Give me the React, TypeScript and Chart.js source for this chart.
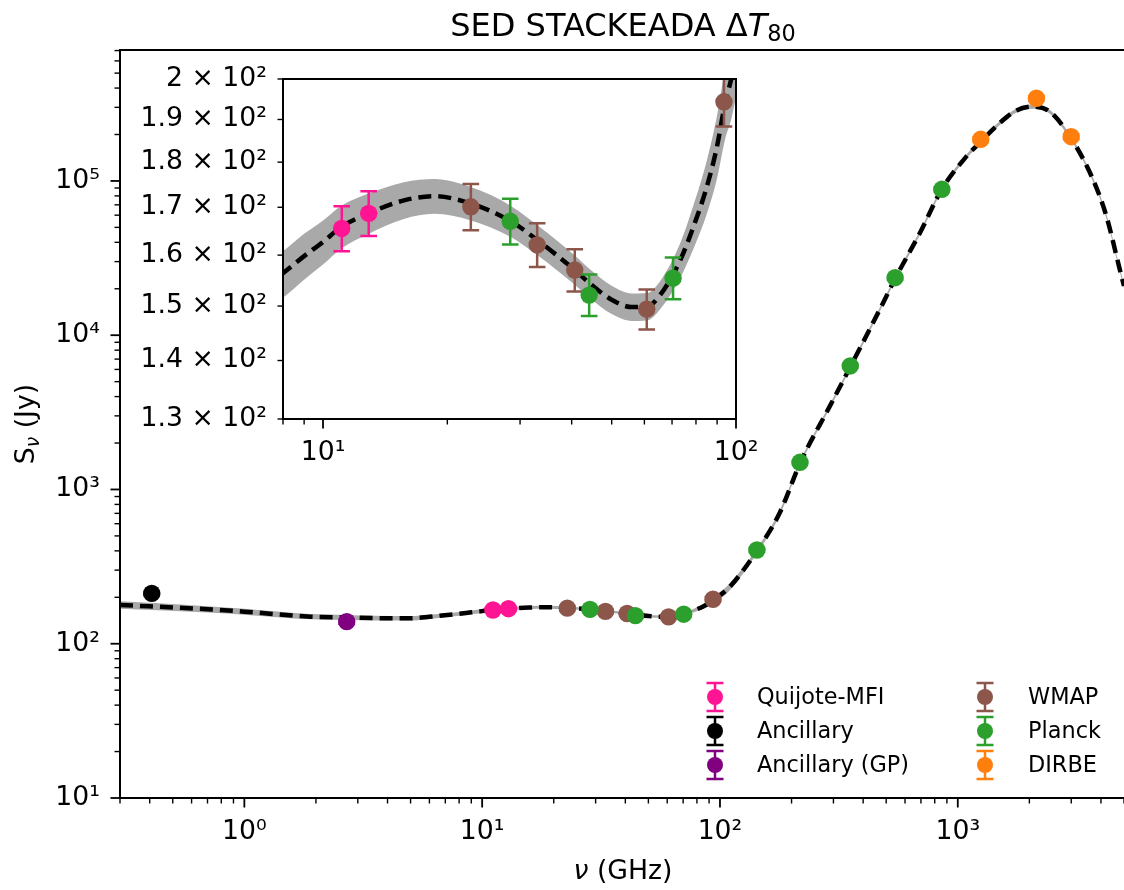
import React, { useEffect, useRef } from 'react';
import { Chart, registerables } from 'chart.js';

Chart.register(...registerables);

const FONT = '"DejaVu Sans", "Liberation Sans", sans-serif';

// ---------------- Data ----------------
const seriesNames = ['Quijote-MFI', 'Ancillary', 'Ancillary (GP)', 'WMAP', 'Planck', 'DIRBE'];
const seriesColors = ['#ff1493', '#000000', '#800080', '#8c564b', '#2ca02c', '#ff7f0e'];

const quijoteFreq = [11.1, 12.9];
const quijoteFlux = [165.5, 168.7];
const quijoteErr = [4.7, 4.8];

const ancFreq = [0.408];
const ancFlux = [212];
const ancErr = [5];

const ancGpFreq = [2.695];
const ancGpFlux = [139];
const ancGpErr = [4];

const wmapFreq = [22.8, 33.0, 40.7, 60.8, 93.5];
const wmapFlux = [170.1, 162.1, 157.0, 149.4, 194.3];
const wmapErr = [5.0, 4.5, 4.2, 3.8, 6.0];

const planckFreq = [28.4, 44.1, 70.4, 143, 217, 353, 545, 857];
const planckFlux = [167.0, 152.1, 155.4, 405, 1500, 6320, 23600, 88300];
const planckErr = [4.85, 4.0, 4.1, 10, 35, 150, 600, 2500];

const dirbeFreq = [1249, 2141, 2998];
const dirbeFlux = [186200, 343600, 193600];
const dirbeErr = [6000, 11000, 7000];

// model curve (dashed) and its uncertainty band
const modelFreq = [0.3, 0.7, 1.0, 1.9, 2.7, 3.5, 5.0, 6.0, 8.0, 9.0, 10, 11.1, 12.9, 15.7, 18.6, 22.8, 28.5, 33.0, 40.7, 44.2, 50, 56, 60.9, 65.5, 73.3, 78.9, 85, 89.9, 94.1, 97.6, 110, 143, 178, 218, 289, 355, 470, 548, 692, 857, 1088, 1258, 1502, 1766, 2075, 2438, 3027, 3710, 4222, 4805, 5000];
const modelFlux = [178.5, 167.3, 161.4, 149.8, 148.0, 146.6, 146.3, 149.5, 156.4, 159.8, 162.7, 165.9, 168.7, 171.5, 172.4, 170.8, 167.0, 163.1, 157.0, 154.4, 151.2, 149.8, 149.9, 152.1, 159.0, 165.9, 174.5, 183.5, 194.0, 200.5, 234, 400, 701, 1501, 3442, 6320, 14690, 23600, 45800, 88300, 144200, 181600, 237700, 286400, 303300, 281400, 184400, 101500, 58700, 26500, 20860];
const modelLow = [168.7, 159.3, 154.3, 144.0, 142.5, 141.5, 141.5, 144.9, 151.6, 155.1, 158.1, 161.4, 164.4, 167.5, 168.6, 167.2, 163.7, 160.0, 154.1, 151.6, 148.5, 147.2, 147.3, 149.4, 155.5, 161.3, 168.6, 176.2, 185.3, 190.5, 222.3, 384, 676.5, 1456, 3339, 6130, 14250, 22890, 44430, 85650, 139900, 176200, 230600, 277800, 294200, 273000, 178900, 98460, 56940, 25710, 20230];
const modelHigh = [188.3, 175.3, 168.5, 155.6, 153.5, 151.7, 151.1, 154.1, 160.8, 164.4, 167.2, 170.4, 173.0, 175.5, 176.2, 174.4, 170.3, 166.2, 159.9, 157.2, 153.9, 152.4, 152.5, 154.8, 162.5, 170.5, 180.4, 190.8, 202.7, 210.5, 245.7, 416, 725.5, 1546, 3545, 6510, 15130, 24310, 47170, 90950, 148500, 187000, 244800, 295000, 312400, 289800, 189900, 104500, 60460, 27300, 21490];

// ticks
const mainXTicks = [0.3, 0.4, 0.5, 0.6, 0.7, 0.8, 0.9, 1, 2, 3, 4, 5, 6, 7, 8, 9, 10, 20, 30, 40, 50, 60, 70, 80, 90, 100, 200, 300, 400, 500, 600, 700, 800, 900, 1000, 2000, 3000, 4000, 5000];
const mainXMajor = [1, 10, 100, 1000];
const mainXLabels = ['10⁰', '10¹', '10²', '10³'];
const mainYTicks = [10, 20, 30, 40, 50, 60, 70, 80, 90, 100, 200, 300, 400, 500, 600, 700, 800, 900, 1000, 2000, 3000, 4000, 5000, 6000, 7000, 8000, 9000, 10000, 20000, 30000, 40000, 50000, 60000, 70000, 80000, 90000, 100000, 200000, 300000, 400000, 500000, 600000, 700000];
const mainYMajor = [10, 100, 1000, 10000, 100000];
const mainYLabels = ['10¹', '10²', '10³', '10⁴', '10⁵'];

const insetXTicks = [8, 9, 10, 20, 30, 40, 50, 60, 70, 80, 90, 100];
const insetXMajor = [10, 100];
const insetXLabels = ['10¹', '10²'];
const insetYTicks = [130, 140, 150, 160, 170, 180, 190, 200];
const insetYLabels = ['1.3 × 10²', '1.4 × 10²', '1.5 × 10²', '1.6 × 10²', '1.7 × 10²', '1.8 × 10²', '1.9 × 10²', '2 × 10²'];

// texts
const TITLE_TEXT = 'SED STACKEADA Δ';
const TITLE_VAR = 'T';
const TITLE_SUB = '80';
const XLABEL_VAR = 'ν';
const XLABEL_UNIT = ' (GHz)';
const YLABEL_VAR = 'S';
const YLABEL_SUB = 'ν';
const YLABEL_UNIT = ' (Jy)';

// ---------------- helpers ----------------
const BAND = '#a9a9a9';

function tickLabeler(values: number[], labels: string[]) {
  return (v: any) => {
    const n = Number(v);
    const i = values.findIndex((t) => Math.abs(t - n) <= t * 1e-6);
    return i >= 0 ? labels[i] : '';
  };
}

function buildDatasets(markerR: number) {
  const series = [
    { f: quijoteFreq, s: quijoteFlux, e: quijoteErr },
    { f: ancFreq, s: ancFlux, e: ancErr },
    { f: ancGpFreq, s: ancGpFlux, e: ancGpErr },
    { f: wmapFreq, s: wmapFlux, e: wmapErr },
    { f: planckFreq, s: planckFlux, e: planckErr },
    { f: dirbeFreq, s: dirbeFlux, e: dirbeErr },
  ];
  const points = series.map((sr, k) => ({
    type: 'line',
    label: seriesNames[k],
    data: sr.f.map((f, i) => ({ x: f, y: sr.s[i] })),
    errors: sr.e,
    errColor: seriesColors[k],
    showLine: false,
    pointRadius: markerR,
    pointHoverRadius: markerR,
    pointBackgroundColor: seriesColors[k],
    pointBorderColor: seriesColors[k],
    pointBorderWidth: 0,
    backgroundColor: seriesColors[k],
    borderColor: seriesColors[k],
    order: 6 - k,
  }));
  const bandHigh = {
    type: 'line',
    label: 'model upper',
    data: modelFreq.map((f, i) => ({ x: f, y: modelHigh[i] })),
    borderWidth: 0,
    borderColor: 'rgba(0,0,0,0)',
    pointRadius: 0,
    fill: '+1',
    backgroundColor: BAND,
    cubicInterpolationMode: 'monotone',
    order: 20,
  };
  const bandLow = {
    type: 'line',
    label: 'model lower',
    data: modelFreq.map((f, i) => ({ x: f, y: modelLow[i] })),
    borderWidth: 0,
    borderColor: 'rgba(0,0,0,0)',
    pointRadius: 0,
    fill: false,
    cubicInterpolationMode: 'monotone',
    order: 21,
  };
  const model = {
    type: 'line',
    label: 'model',
    data: modelFreq.map((f, i) => ({ x: f, y: modelFlux[i] })),
    borderColor: '#000000',
    borderWidth: 4.5,
    borderDash: [13, 7],
    pointRadius: 0,
    fill: false,
    cubicInterpolationMode: 'monotone',
    order: 10,
  };
  return [...points, bandHigh, bandLow, model];
}

function errorBarsPlugin(capHalf: number, lw: number) {
  return {
    id: 'errorBars',
    beforeDatasetDraw(chart: any, args: any) {
      const ds = chart.data.datasets[args.index];
      if (!ds.errors) return;
      const { ctx, chartArea: a, scales } = chart;
      ctx.save();
      ctx.beginPath();
      ctx.rect(a.left, a.top, a.right - a.left, a.bottom - a.top);
      ctx.clip();
      ctx.strokeStyle = ds.errColor;
      ctx.lineWidth = lw;
      ctx.lineCap = 'butt';
      ds.data.forEach((p: any, i: number) => {
        const e = ds.errors[i];
        const x = scales.x.getPixelForValue(p.x);
        const yT = scales.y.getPixelForValue(p.y + e);
        const yB = scales.y.getPixelForValue(p.y - e);
        ctx.beginPath();
        ctx.moveTo(x, yT);
        ctx.lineTo(x, yB);
        ctx.moveTo(x - capHalf, yT);
        ctx.lineTo(x + capHalf, yT);
        ctx.moveTo(x - capHalf, yB);
        ctx.lineTo(x + capHalf, yB);
        ctx.stroke();
      });
      ctx.restore();
    },
  };
}

type TickSpec = { values: number[]; majors: number[]; majorLen: number; minorLen: number; majorW: number; minorW: number };

function tickMarksPlugin(xs: TickSpec, ys: TickSpec) {
  return {
    id: 'tickMarks',
    afterDatasetsDraw(chart: any) {
      const { ctx, chartArea: a, scales } = chart;
      ctx.save();
      ctx.strokeStyle = '#000';
      ctx.lineCap = 'butt';
      const isMajor = (spec: TickSpec, v: number) => spec.majors.some((m) => Math.abs(m - v) <= m * 1e-6);
      xs.values.forEach((v) => {
        const mj = isMajor(xs, v);
        const p = scales.x.getPixelForValue(v);
        ctx.lineWidth = mj ? xs.majorW : xs.minorW;
        ctx.beginPath();
        ctx.moveTo(p, a.bottom);
        ctx.lineTo(p, a.bottom + (mj ? xs.majorLen : xs.minorLen));
        ctx.stroke();
      });
      ys.values.forEach((v) => {
        const mj = isMajor(ys, v);
        const p = scales.y.getPixelForValue(v);
        ctx.lineWidth = mj ? ys.majorW : ys.minorW;
        ctx.beginPath();
        ctx.moveTo(a.left, p);
        ctx.lineTo(a.left - (mj ? ys.majorLen : ys.minorLen), p);
        ctx.stroke();
      });
      ctx.restore();
    },
  };
}

function framePlugin(right: boolean, lw: number) {
  return {
    id: 'frame',
    afterDatasetsDraw(chart: any) {
      const { ctx, chartArea: a } = chart;
      ctx.save();
      ctx.strokeStyle = '#000';
      ctx.lineWidth = lw;
      ctx.lineCap = 'square';
      ctx.beginPath();
      ctx.moveTo(a.right + (right ? 0 : 5), a.top);
      ctx.lineTo(a.left, a.top);
      ctx.lineTo(a.left, a.bottom);
      ctx.lineTo(a.right + (right ? 0 : 5), a.bottom);
      if (right) {
        ctx.lineTo(a.right, a.top);
      }
      ctx.stroke();
      ctx.restore();
    },
  };
}

const whiteAreaPlugin = {
  id: 'whiteArea',
  beforeDraw(chart: any) {
    const { ctx, chartArea: a } = chart;
    ctx.save();
    ctx.fillStyle = '#ffffff';
    ctx.fillRect(a.left, a.top, a.right - a.left, a.bottom - a.top);
    ctx.restore();
  },
};

type Run = { text: string; font: string; dy: number };

function drawRuns(ctx: CanvasRenderingContext2D, runs: Run[], x: number, y: number) {
  const widths = runs.map((r) => {
    ctx.font = r.font;
    return ctx.measureText(r.text).width;
  });
  const total = widths.reduce((s, w) => s + w, 0);
  let cx = x - total / 2;
  ctx.textAlign = 'left';
  ctx.textBaseline = 'alphabetic';
  runs.forEach((r, i) => {
    ctx.font = r.font;
    ctx.fillText(r.text, cx, y + r.dy);
    cx += widths[i];
  });
}

const textPlugin = {
  id: 'sedTexts',
  afterDraw(chart: any) {
    const { ctx, chartArea: a } = chart;
    ctx.save();
    ctx.fillStyle = '#000';
    const cx = (a.left + 1126) / 2;
    drawRuns(ctx, [
      { text: TITLE_TEXT, font: `32px ${FONT}`, dy: 0 },
      { text: TITLE_VAR, font: `italic 32px ${FONT}`, dy: 0 },
      { text: TITLE_SUB, font: `22.4px ${FONT}`, dy: 5 },
    ], cx, 36);
    drawRuns(ctx, [
      { text: XLABEL_VAR, font: `italic 26.7px ${FONT}`, dy: 0 },
      { text: XLABEL_UNIT, font: `26.7px ${FONT}`, dy: 0 },
    ], cx, 879);
    ctx.translate(34, (a.top + a.bottom) / 2);
    ctx.rotate(-Math.PI / 2);
    drawRuns(ctx, [
      { text: YLABEL_VAR, font: `26.7px ${FONT}`, dy: 0 },
      { text: YLABEL_SUB, font: `italic 18.7px ${FONT}`, dy: 5 },
      { text: YLABEL_UNIT, font: `26.7px ${FONT}`, dy: 0 },
    ], 0, 0);
    ctx.restore();
  },
};

const LEGEND_MARK_X = [715, 985];
const LEGEND_TEXT_X = [757, 1028];
const LEGEND_ROW_Y = [697, 731, 765];

const legendPlugin = {
  id: 'sedLegend',
  afterDraw(chart: any) {
    const { ctx } = chart;
    ctx.save();
    seriesNames.forEach((name, k) => {
      const col = Math.floor(k / 3);
      const row = k % 3;
      const mx = LEGEND_MARK_X[col];
      const my = LEGEND_ROW_Y[row];
      const c = seriesColors[k];
      ctx.strokeStyle = c;
      ctx.fillStyle = c;
      ctx.lineWidth = 2.5;
      ctx.beginPath();
      ctx.moveTo(mx, my - 14);
      ctx.lineTo(mx, my + 14);
      ctx.moveTo(mx - 8.5, my - 14);
      ctx.lineTo(mx + 8.5, my - 14);
      ctx.moveTo(mx - 8.5, my + 14);
      ctx.lineTo(mx + 8.5, my + 14);
      ctx.stroke();
      ctx.beginPath();
      ctx.arc(mx, my, 8, 0, Math.PI * 2);
      ctx.fill();
      ctx.fillStyle = '#000';
      ctx.font = `22.4px ${FONT}`;
      ctx.textAlign = 'left';
      ctx.textBaseline = 'middle';
      ctx.fillText(name, LEGEND_TEXT_X[col], my + 1);
    });
    ctx.restore();
  },
};

function zeroPad(s: any) {
  s.paddingLeft = 0;
  s.paddingRight = 0;
  s.paddingTop = 0;
  s.paddingBottom = 0;
}

function axisCommon(padding: number) {
  return {
    grid: { display: false, drawTicks: false },
    border: { display: false },
    ticks: {
      autoSkip: false,
      maxRotation: 0,
      minRotation: 0,
      padding,
      color: '#000',
      font: { family: FONT, size: 26.7 },
    },
  };
}

function mainConfig(): any {
  const xc = axisCommon(18);
  const yc = axisCommon(20);
  return {
    type: 'line',
    data: { datasets: buildDatasets(8.7) },
    options: {
      responsive: false,
      animation: false,
      devicePixelRatio: 1,
      events: [],
      layout: { autoPadding: false, padding: { top: 50, left: 0, right: 0, bottom: 0 } },
      plugins: { legend: { display: false }, tooltip: { enabled: false }, title: { display: false } },
      scales: {
        x: {
          type: 'logarithmic',
          position: 'bottom',
          min: 0.3,
          max: 5000,
          ...xc,
          ticks: { ...xc.ticks, callback: tickLabeler(mainXMajor, mainXLabels) },
          afterBuildTicks: (s: any) => { s.ticks = mainXTicks.map((v) => ({ value: v })); },
          afterFit: (s: any) => { s.height = 92; zeroPad(s); },
        },
        y: {
          type: 'logarithmic',
          position: 'left',
          min: 10,
          max: 706000,
          ...yc,
          ticks: { ...yc.ticks, callback: tickLabeler(mainYMajor, mainYLabels) },
          afterBuildTicks: (s: any) => { s.ticks = mainYTicks.map((v) => ({ value: v })); },
          afterFit: (s: any) => { s.width = 120; zeroPad(s); },
        },
      },
    },
    plugins: [
      errorBarsPlugin(8.3, 2.5),
      tickMarksPlugin(
        { values: mainXTicks, majors: mainXMajor, majorLen: 9.5, minorLen: 5.5, majorW: 1.8, minorW: 1.4 },
        { values: mainYTicks, majors: mainYMajor, majorLen: 9.5, minorLen: 5.5, majorW: 1.8, minorW: 1.4 },
      ),
      framePlugin(false, 2),
      textPlugin,
      legendPlugin,
    ],
  };
}

function insetConfig(): any {
  const xc = axisCommon(18);
  const yc = axisCommon(16);
  return {
    type: 'line',
    data: { datasets: buildDatasets(8.7) },
    options: {
      responsive: false,
      animation: false,
      devicePixelRatio: 1,
      events: [],
      layout: { autoPadding: false, padding: { top: 19, left: 0, right: 54, bottom: 0 } },
      plugins: { legend: { display: false }, tooltip: { enabled: false }, title: { display: false } },
      scales: {
        x: {
          type: 'logarithmic',
          position: 'bottom',
          min: 8,
          max: 100,
          ...xc,
          ticks: { ...xc.ticks, callback: tickLabeler(insetXMajor, insetXLabels) },
          afterBuildTicks: (s: any) => { s.ticks = insetXTicks.map((v) => ({ value: v })); },
          afterFit: (s: any) => { s.height = 61; zeroPad(s); },
        },
        y: {
          type: 'logarithmic',
          position: 'left',
          min: 130,
          max: 200,
          ...yc,
          ticks: { ...yc.ticks, callback: tickLabeler(insetYTicks, insetYLabels) },
          afterBuildTicks: (s: any) => { s.ticks = insetYTicks.map((v) => ({ value: v })); },
          afterFit: (s: any) => { s.width = 153; zeroPad(s); },
        },
      },
    },
    plugins: [
      whiteAreaPlugin,
      errorBarsPlugin(8.3, 2.5),
      tickMarksPlugin(
        { values: insetXTicks, majors: insetXMajor, majorLen: 9.5, minorLen: 5.5, majorW: 1.8, minorW: 1.4 },
        { values: insetYTicks, majors: [], majorLen: 9.5, minorLen: 5.5, majorW: 1.8, minorW: 1.4 },
      ),
      framePlugin(true, 2),
    ],
  };
}

export default function App() {
  const mainRef = useRef<HTMLCanvasElement>(null);
  const insetRef = useRef<HTMLCanvasElement>(null);

  useEffect(() => {
    const main = new Chart(mainRef.current as HTMLCanvasElement, mainConfig());
    const inset = new Chart(insetRef.current as HTMLCanvasElement, insetConfig());
    return () => {
      main.destroy();
      inset.destroy();
    };
  }, []);

  return (
    <div style={{ position: 'absolute', left: 0, top: 0, width: 1124, height: 890, background: '#ffffff', overflow: 'hidden' }}>
      <canvas ref={mainRef} width={1124} height={890} style={{ position: 'absolute', left: 0, top: 0, display: 'block' }} />
      <canvas ref={insetRef} width={660} height={420} style={{ position: 'absolute', left: 130, top: 60, display: 'block' }} />
    </div>
  );
}
